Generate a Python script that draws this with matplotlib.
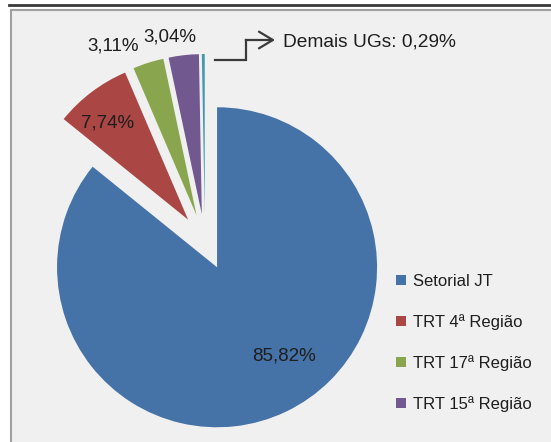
import matplotlib
matplotlib.use('Agg')
import matplotlib.pyplot as plt
from matplotlib.patches import Rectangle
from matplotlib.lines import Line2D

plt.rcParams['font.family'] = ['Liberation Sans', 'DejaVu Sans']

# dados
categorias = ['Setorial JT', 'TRT 4ª Região', 'TRT 17ª Região', 'TRT 15ª Região', 'Demais UGs']
valores = [85.82, 7.74, 3.11, 3.04, 0.29]
rotulos = ['85,82%', '7,74%', '3,11%', '3,04%', 'Demais UGs: 0,29%']
cores = ['#4572A7', '#AA4643', '#89A54E', '#71588F', '#4198AF']

W, H = 551, 442
fig = plt.figure(figsize=(W / 100, H / 100), dpi=100)
fig.patch.set_facecolor('white')

# fundo cinza do gráfico + linha escura no topo
fig.patches.append(Rectangle((11 / W, -0.05), 1.1, (H - 10) / H + 0.05, transform=fig.transFigure,
                             facecolor='#f0f0f0', edgecolor='#a0a0a0', linewidth=1.5, zorder=-5))
fig.add_artist(Line2D([9 / W, 1.0], [1 - 5 / H, 1 - 5 / H], transform=fig.transFigure,
                      color='#3a3a3a', linewidth=2, zorder=-4))

# eixo da pizza: centro em (205, 242) px, raio 160 px
cx, cy, r = 205, 242, 160
L = 1.6
half = L * r
ax = fig.add_axes([(cx - half) / W, (H - cy - half) / H, 2 * half / W, 2 * half / H])
ax.set_facecolor('none')
ax.set_zorder(1)
wedges, _ = ax.pie(valores, explode=[0.175] * len(valores), startangle=90, counterclock=False,
                   colors=cores, wedgeprops=dict(linewidth=0))
ax.set_xlim(-L, L)
ax.set_ylim(-L, L)
ax.axis('off')


def px(x, y):
    # converte pixel da imagem para coordenadas da pizza
    return (x - cx) / r, (cy - y) / r


cor_txt = '#1e1e1e'
ax.text(*px(284.5, 356), rotulos[0], ha='center', va='center', fontsize=13.5, color=cor_txt)
ax.text(*px(108, 123), rotulos[1], ha='center', va='center', fontsize=13.5, color=cor_txt)
ax.text(*px(113.5, 46), rotulos[2], ha='center', va='center', fontsize=13.5, color=cor_txt)
ax.text(*px(169.5, 37), rotulos[3], ha='center', va='center', fontsize=13.5, color=cor_txt)
ax.text(*px(283, 42), rotulos[4], ha='left', va='center', fontsize=13.8, color=cor_txt)

# conector com seta para "Demais UGs"
p0, p1, p2, p3 = px(215, 60), px(246.5, 60), px(246.5, 40), px(275, 40)
ax.plot([p0[0], p1[0], p2[0]], [p0[1], p1[1], p2[1]], color='#3a3a3a', lw=1.6,
        solid_joinstyle='miter', clip_on=False)
ax.annotate('', xy=p3, xytext=(p2[0] - 0.005, p2[1]),
            arrowprops=dict(arrowstyle='->,head_length=0.5,head_width=0.3', lw=1.6,
                            color='#3a3a3a', mutation_scale=20, shrinkA=0, shrinkB=0))

# legenda (sem "Demais UGs")
leg = fig.legend(wedges[:4], categorias[:4], loc='upper left', bbox_to_anchor=(396 / W, 1 - 274 / H),
                 frameon=False, fontsize=12, handlelength=0.6, handleheight=0.55,
                 handletextpad=0.4, labelspacing=1.5, borderpad=0, borderaxespad=0,
                 labelcolor=cor_txt)
leg.set_zorder(2)

fig.savefig('out.png', dpi=100)
